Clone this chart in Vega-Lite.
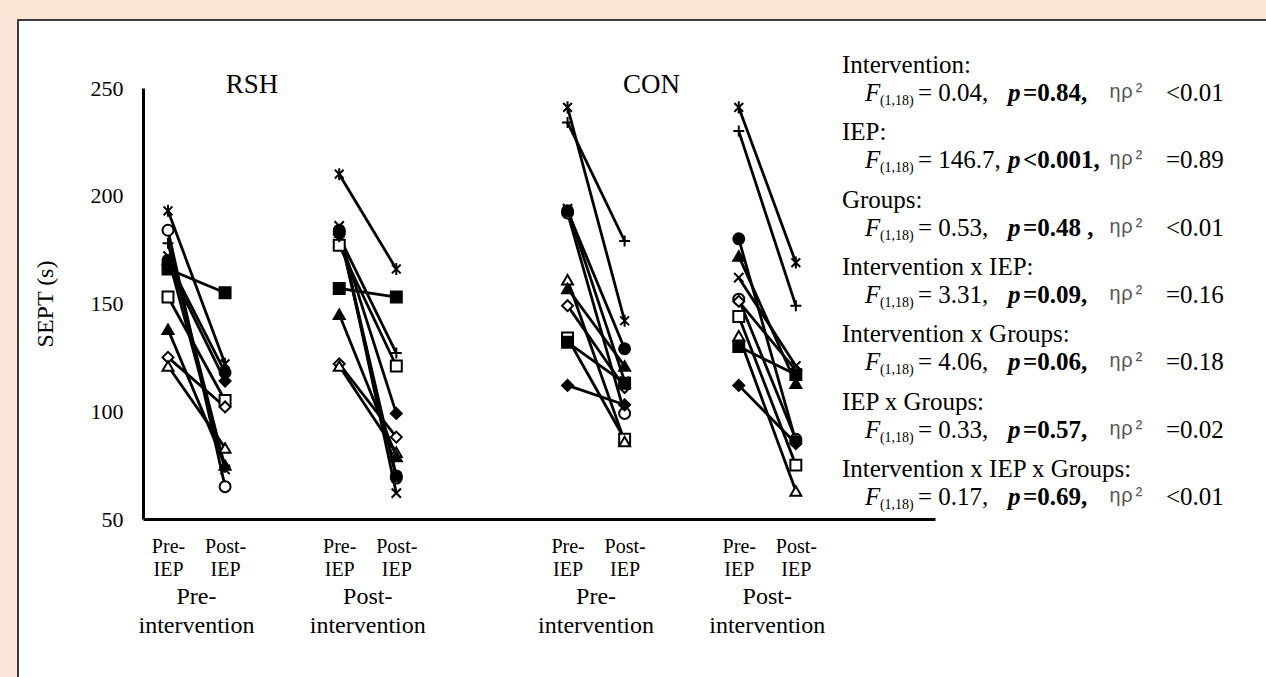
{
  "$schema": "https://vega.github.io/schema/vega-lite/v6.json",
  "width": 1250,
  "height": 659,
  "autosize": {"type": "none"},
  "padding": {"left": 18, "top": 20, "right": 0, "bottom": 0},
  "background": "#FBE5D6",
  "config": {
    "view": {"fill": "white", "stroke": "black", "strokeWidth": 1.5},
    "font": "Liberation Serif",
    "text": {"font": "Liberation Serif", "color": "black"}
  },
  "datasets": {
    "pts": [
      {"g":"RSH","ph":"pre-int","x":"RSH pre-int pre-IEP","s":"○","v":184},
      {"g":"RSH","ph":"pre-int","x":"RSH pre-int post-IEP","s":"○","v":65},
      {"g":"RSH","ph":"pre-int","x":"RSH pre-int pre-IEP","s":"□","v":153},
      {"g":"RSH","ph":"pre-int","x":"RSH pre-int post-IEP","s":"□","v":105},
      {"g":"RSH","ph":"pre-int","x":"RSH pre-int pre-IEP","s":"◇","v":125},
      {"g":"RSH","ph":"pre-int","x":"RSH pre-int post-IEP","s":"◇","v":102},
      {"g":"RSH","ph":"pre-int","x":"RSH pre-int pre-IEP","s":"△","v":121},
      {"g":"RSH","ph":"pre-int","x":"RSH pre-int post-IEP","s":"△","v":83},
      {"g":"RSH","ph":"pre-int","x":"RSH pre-int pre-IEP","s":"▲","v":138},
      {"g":"RSH","ph":"pre-int","x":"RSH pre-int post-IEP","s":"▲","v":75},
      {"g":"RSH","ph":"pre-int","x":"RSH pre-int pre-IEP","s":"◆","v":168},
      {"g":"RSH","ph":"pre-int","x":"RSH pre-int post-IEP","s":"◆","v":114},
      {"g":"RSH","ph":"pre-int","x":"RSH pre-int pre-IEP","s":"●","v":170},
      {"g":"RSH","ph":"pre-int","x":"RSH pre-int post-IEP","s":"●","v":118},
      {"g":"RSH","ph":"pre-int","x":"RSH pre-int pre-IEP","s":"■","v":166},
      {"g":"RSH","ph":"pre-int","x":"RSH pre-int post-IEP","s":"■","v":155},
      {"g":"RSH","ph":"pre-int","x":"RSH pre-int pre-IEP","s":"×","v":172},
      {"g":"RSH","ph":"pre-int","x":"RSH pre-int post-IEP","s":"×","v":73},
      {"g":"RSH","ph":"pre-int","x":"RSH pre-int pre-IEP","s":"+","v":178},
      {"g":"RSH","ph":"pre-int","x":"RSH pre-int post-IEP","s":"+","v":74},
      {"g":"RSH","ph":"pre-int","x":"RSH pre-int pre-IEP","s":"*","v":193},
      {"g":"RSH","ph":"pre-int","x":"RSH pre-int post-IEP","s":"*","v":122},

      {"g":"RSH","ph":"post-int","x":"RSH post-int pre-IEP","s":"○","v":183},
      {"g":"RSH","ph":"post-int","x":"RSH post-int post-IEP","s":"○","v":69},
      {"g":"RSH","ph":"post-int","x":"RSH post-int pre-IEP","s":"□","v":177},
      {"g":"RSH","ph":"post-int","x":"RSH post-int post-IEP","s":"□","v":121},
      {"g":"RSH","ph":"post-int","x":"RSH post-int pre-IEP","s":"◇","v":122},
      {"g":"RSH","ph":"post-int","x":"RSH post-int post-IEP","s":"◇","v":88},
      {"g":"RSH","ph":"post-int","x":"RSH post-int pre-IEP","s":"△","v":121},
      {"g":"RSH","ph":"post-int","x":"RSH post-int post-IEP","s":"△","v":81},
      {"g":"RSH","ph":"post-int","x":"RSH post-int pre-IEP","s":"▲","v":145},
      {"g":"RSH","ph":"post-int","x":"RSH post-int post-IEP","s":"▲","v":79},
      {"g":"RSH","ph":"post-int","x":"RSH post-int pre-IEP","s":"◆","v":182},
      {"g":"RSH","ph":"post-int","x":"RSH post-int post-IEP","s":"◆","v":99},
      {"g":"RSH","ph":"post-int","x":"RSH post-int pre-IEP","s":"●","v":184},
      {"g":"RSH","ph":"post-int","x":"RSH post-int post-IEP","s":"●","v":70},
      {"g":"RSH","ph":"post-int","x":"RSH post-int pre-IEP","s":"■","v":157},
      {"g":"RSH","ph":"post-int","x":"RSH post-int post-IEP","s":"■","v":153},
      {"g":"RSH","ph":"post-int","x":"RSH post-int pre-IEP","s":"×","v":186},
      {"g":"RSH","ph":"post-int","x":"RSH post-int post-IEP","s":"×","v":62},
      {"g":"RSH","ph":"post-int","x":"RSH post-int pre-IEP","s":"+","v":181},
      {"g":"RSH","ph":"post-int","x":"RSH post-int post-IEP","s":"+","v":127},
      {"g":"RSH","ph":"post-int","x":"RSH post-int pre-IEP","s":"*","v":210},
      {"g":"RSH","ph":"post-int","x":"RSH post-int post-IEP","s":"*","v":166},

      {"g":"CON","ph":"pre-int","x":"CON pre-int pre-IEP","s":"○","v":192},
      {"g":"CON","ph":"pre-int","x":"CON pre-int post-IEP","s":"○","v":99},
      {"g":"CON","ph":"pre-int","x":"CON pre-int pre-IEP","s":"□","v":134},
      {"g":"CON","ph":"pre-int","x":"CON pre-int post-IEP","s":"□","v":87},
      {"g":"CON","ph":"pre-int","x":"CON pre-int pre-IEP","s":"◇","v":149},
      {"g":"CON","ph":"pre-int","x":"CON pre-int post-IEP","s":"◇","v":111},
      {"g":"CON","ph":"pre-int","x":"CON pre-int pre-IEP","s":"△","v":161},
      {"g":"CON","ph":"pre-int","x":"CON pre-int post-IEP","s":"△","v":86},
      {"g":"CON","ph":"pre-int","x":"CON pre-int pre-IEP","s":"▲","v":157},
      {"g":"CON","ph":"pre-int","x":"CON pre-int post-IEP","s":"▲","v":121},
      {"g":"CON","ph":"pre-int","x":"CON pre-int pre-IEP","s":"◆","v":112},
      {"g":"CON","ph":"pre-int","x":"CON pre-int post-IEP","s":"◆","v":103},
      {"g":"CON","ph":"pre-int","x":"CON pre-int pre-IEP","s":"●","v":193},
      {"g":"CON","ph":"pre-int","x":"CON pre-int post-IEP","s":"●","v":129},
      {"g":"CON","ph":"pre-int","x":"CON pre-int pre-IEP","s":"■","v":132},
      {"g":"CON","ph":"pre-int","x":"CON pre-int post-IEP","s":"■","v":113},
      {"g":"CON","ph":"pre-int","x":"CON pre-int pre-IEP","s":"×","v":194},
      {"g":"CON","ph":"pre-int","x":"CON pre-int post-IEP","s":"×","v":114},
      {"g":"CON","ph":"pre-int","x":"CON pre-int pre-IEP","s":"+","v":234},
      {"g":"CON","ph":"pre-int","x":"CON pre-int post-IEP","s":"+","v":179},
      {"g":"CON","ph":"pre-int","x":"CON pre-int pre-IEP","s":"*","v":241},
      {"g":"CON","ph":"pre-int","x":"CON pre-int post-IEP","s":"*","v":142},

      {"g":"CON","ph":"post-int","x":"CON post-int pre-IEP","s":"○","v":152},
      {"g":"CON","ph":"post-int","x":"CON post-int post-IEP","s":"○","v":87},
      {"g":"CON","ph":"post-int","x":"CON post-int pre-IEP","s":"□","v":144},
      {"g":"CON","ph":"post-int","x":"CON post-int post-IEP","s":"□","v":75},
      {"g":"CON","ph":"post-int","x":"CON post-int pre-IEP","s":"◇","v":151},
      {"g":"CON","ph":"post-int","x":"CON post-int post-IEP","s":"◇","v":119},
      {"g":"CON","ph":"post-int","x":"CON post-int pre-IEP","s":"△","v":135},
      {"g":"CON","ph":"post-int","x":"CON post-int post-IEP","s":"△","v":63},
      {"g":"CON","ph":"post-int","x":"CON post-int pre-IEP","s":"▲","v":172},
      {"g":"CON","ph":"post-int","x":"CON post-int post-IEP","s":"▲","v":113},
      {"g":"CON","ph":"post-int","x":"CON post-int pre-IEP","s":"◆","v":112},
      {"g":"CON","ph":"post-int","x":"CON post-int post-IEP","s":"◆","v":85},
      {"g":"CON","ph":"post-int","x":"CON post-int pre-IEP","s":"●","v":180},
      {"g":"CON","ph":"post-int","x":"CON post-int post-IEP","s":"●","v":86},
      {"g":"CON","ph":"post-int","x":"CON post-int pre-IEP","s":"■","v":130},
      {"g":"CON","ph":"post-int","x":"CON post-int post-IEP","s":"■","v":117},
      {"g":"CON","ph":"post-int","x":"CON post-int pre-IEP","s":"×","v":162},
      {"g":"CON","ph":"post-int","x":"CON post-int post-IEP","s":"×","v":121},
      {"g":"CON","ph":"post-int","x":"CON post-int pre-IEP","s":"+","v":230},
      {"g":"CON","ph":"post-int","x":"CON post-int post-IEP","s":"+","v":149},
      {"g":"CON","ph":"post-int","x":"CON post-int pre-IEP","s":"*","v":241},
      {"g":"CON","ph":"post-int","x":"CON post-int post-IEP","s":"*","v":169}
    ],
    "groups": [
      {"t":"RSH","x":"RSH pre-int post-IEP"},
      {"t":"CON","x":"CON pre-int post-IEP"}
    ],
    "phases": [
      {"t":"Pre-\nintervention","x":"RSH pre-int pre-IEP"},
      {"t":"Post-\nintervention","x":"RSH post-int pre-IEP"},
      {"t":"Pre-\nintervention","x":"CON pre-int pre-IEP"},
      {"t":"Post-\nintervention","x":"CON post-int pre-IEP"}
    ],
    "heads": [
      {"block":1,"t":"Intervention:"},
      {"block":2,"t":"IEP:"},
      {"block":3,"t":"Groups:"},
      {"block":4,"t":"Intervention x IEP:"},
      {"block":5,"t":"Intervention x Groups:"},
      {"block":6,"t":"IEP x Groups:"},
      {"block":7,"t":"Intervention x IEP x Groups:"}
    ],
    "stats": [
      {"block":1,"f":"= 0.04,","pv":"=0.84,","ev":"<0.01"},
      {"block":2,"f":"= 146.7,","pv":"<0.001,","ev":"=0.89"},
      {"block":3,"f":"= 0.53,","pv":"=0.48 ,","ev":"<0.01"},
      {"block":4,"f":"= 3.31,","pv":"=0.09,","ev":"=0.16"},
      {"block":5,"f":"= 4.06,","pv":"=0.06,","ev":"=0.18"},
      {"block":6,"f":"= 0.33,","pv":"=0.57,","ev":"=0.02"},
      {"block":7,"f":"= 0.17,","pv":"=0.69,","ev":"<0.01"}
    ]
  },
  "layer": [
    {
      "layer": [
        {
          "data": {"name": "pts"},
          "mark": {"type": "line", "color": "black", "strokeWidth": 2.8},
          "encoding": {
            "x": {
              "field": "x", "type": "nominal",
              "scale": {
                "type": "point",
                "domain": ["RSH pre-int pre-IEP","RSH pre-int post-IEP","gap1","RSH post-int pre-IEP","RSH post-int post-IEP","gap2","gap3","CON pre-int pre-IEP","CON pre-int post-IEP","gap4","CON post-int pre-IEP","CON post-int post-IEP","gap5","gap6"],
                "range": [125, 917],
                "padding": 0.438
              },
              "axis": {
                "orient": "bottom", "offset": -160, "title": null,
                "domainColor": "black", "domainWidth": 3, "ticks": false, "grid": false,
                "labelAngle": 0, "labelOverlap": false,
                "labelExpr": "indexof(datum.value, 'pre-IEP') >= 0 ? ['Pre-', 'IEP'] : (indexof(datum.value, 'post-IEP') >= 0 ? ['Post-', 'IEP'] : '')",
                "labelFont": "Liberation Serif", "labelFontSize": 20, "labelColor": "black",
                "labelPadding": 17, "labelLineHeight": 23
              }
            },
            "y": {
              "field": "v", "type": "quantitative",
              "scale": {"domain": [50, 250], "range": [499, 68], "nice": false, "zero": false},
              "axis": {
                "orient": "left", "offset": -125, "values": [50, 100, 150, 200, 250],
                "domainColor": "black", "domainWidth": 3, "ticks": false, "grid": false,
                "labelFont": "Liberation Serif", "labelFontSize": 22, "labelColor": "black", "labelPadding": 20,
                "title": "SEPT (s)", "titleFont": "Liberation Serif", "titleFontSize": 24,
                "titleFontWeight": "normal", "titleColor": "black", "titlePadding": 33
              }
            },
            "detail": [{"field": "g"}, {"field": "ph"}, {"field": "s"}]
          }
        },
        {
          "data": {"name": "pts"},
          "mark": {"type": "point", "filled": true, "size": 120, "stroke": "black", "strokeWidth": 2, "opacity": 1, "fillOpacity": 1, "strokeOpacity": 1},
          "encoding": {
            "x": {"field": "x", "type": "nominal"},
            "y": {"field": "v", "type": "quantitative"},
            "shape": {
              "field": "s", "type": "nominal", "legend": null,
              "scale": {
                "domain": ["*","×","+","●","○","■","□","▲","△","◆","◇"],
                "range": ["M-0.8,-0.8L0.8,0.8M-0.8,0.8L0.8,-0.8M0,-1.1L0,1.1","M-0.85,-0.85L0.85,0.85M-0.85,0.85L0.85,-0.85","M-1,0L1,0M0,-1L0,1","circle","circle","square","square","triangle-up","triangle-up","diamond","diamond"]
              }
            },
            "fill": {
              "field": "s", "type": "nominal", "legend": null,
              "scale": {
                "domain": ["*","×","+","●","○","■","□","▲","△","◆","◇"],
                "range": ["transparent","transparent","transparent","black","white","black","white","black","white","black","white"]
              }
            }
          }
        },
        {
          "data": {"name": "groups"},
          "mark": {"type": "text", "fontSize": 27, "dx": 27, "dy": -3, "align": "center", "baseline": "middle"},
          "encoding": {
            "x": {"field": "x", "type": "nominal"},
            "y": {"datum": 250},
            "text": {"field": "t"}
          }
        },
        {
          "data": {"name": "phases"},
          "mark": {"type": "text", "fontSize": 24, "dx": 28.5, "dy": 66, "align": "center", "baseline": "top", "lineBreak": "\n", "lineHeight": 29},
          "encoding": {
            "x": {"field": "x", "type": "nominal"},
            "y": {"datum": 50},
            "text": {"field": "t"}
          }
        }
      ]
    },
    {
      "layer": [
        {
          "data": {"name": "heads"},
          "mark": {"type": "text", "fontSize": 25, "dx": -11, "align": "left", "baseline": "middle"},
          "encoding": {
            "x": {"datum": "gap5"},
            "y": {"field": "block", "type": "quantitative", "scale": {"domain": [1, 7], "range": [45, 449], "nice": false, "zero": false}, "axis": null},
            "text": {"field": "t"}
          }
        },
        {
          "data": {"name": "stats"},
          "mark": {"type": "text", "fontSize": 25, "fontStyle": "italic", "dx": 12, "dy": 28, "align": "left", "baseline": "middle"},
          "encoding": {
            "x": {"datum": "gap5"},
            "y": {"field": "block", "type": "quantitative"},
            "text": {"value": "F"}
          }
        },
        {
          "data": {"name": "stats"},
          "mark": {"type": "text", "fontSize": 14, "dx": 27, "dy": 36, "align": "left", "baseline": "middle"},
          "encoding": {
            "x": {"datum": "gap5"},
            "y": {"field": "block", "type": "quantitative"},
            "text": {"value": "(1,18)"}
          }
        },
        {
          "data": {"name": "stats"},
          "mark": {"type": "text", "fontSize": 25, "dx": 65, "dy": 28, "align": "left", "baseline": "middle"},
          "encoding": {
            "x": {"datum": "gap5"},
            "y": {"field": "block", "type": "quantitative"},
            "text": {"field": "f"}
          }
        },
        {
          "data": {"name": "stats"},
          "mark": {"type": "text", "fontSize": 25, "fontStyle": "italic", "fontWeight": "bold", "dx": 155, "dy": 28, "align": "left", "baseline": "middle"},
          "encoding": {
            "x": {"datum": "gap5"},
            "y": {"field": "block", "type": "quantitative"},
            "text": {"value": "p"}
          }
        },
        {
          "data": {"name": "stats"},
          "mark": {"type": "text", "fontSize": 25, "fontWeight": "bold", "dx": 170, "dy": 28, "align": "left", "baseline": "middle"},
          "encoding": {
            "x": {"datum": "gap5"},
            "y": {"field": "block", "type": "quantitative"},
            "text": {"field": "pv"}
          }
        },
        {
          "data": {"name": "stats"},
          "mark": {"type": "text", "font": "Liberation Mono", "fontSize": 20, "color": "#555555", "dx": 256, "dy": 27, "align": "left", "baseline": "middle"},
          "encoding": {
            "x": {"datum": "gap5"},
            "y": {"field": "block", "type": "quantitative"},
            "text": {"value": "ηρ²"}
          }
        },
        {
          "data": {"name": "stats"},
          "mark": {"type": "text", "fontSize": 25, "dx": 313, "dy": 28, "align": "left", "baseline": "middle"},
          "encoding": {
            "x": {"datum": "gap5"},
            "y": {"field": "block", "type": "quantitative"},
            "text": {"field": "ev"}
          }
        }
      ]
    }
  ],
  "resolve": {"scale": {"y": "independent"}}
}
